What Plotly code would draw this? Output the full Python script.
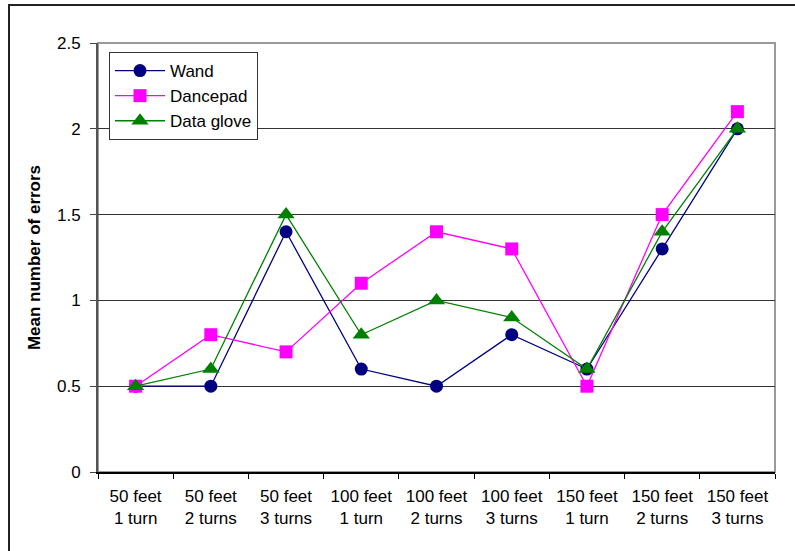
import plotly.graph_objects as go

categories = ["50 feet<br>1 turn", "50 feet<br>2 turns", "50 feet<br>3 turns",
              "100 feet<br>1 turn", "100 feet<br>2 turns", "100 feet<br>3 turns",
              "150 feet<br>1 turn", "150 feet<br>2 turns", "150 feet<br>3 turns"]
wand = [0.5, 0.5, 1.4, 0.6, 0.5, 0.8, 0.6, 1.3, 2.0]
dancepad = [0.5, 0.8, 0.7, 1.1, 1.4, 1.3, 0.5, 1.5, 2.1]
data_glove = [0.5, 0.6, 1.5, 0.8, 1.0, 0.9, 0.6, 1.4, 2.0]
y_ticks = [0, 0.5, 1, 1.5, 2, 2.5]

FONT = "Arial, 'Liberation Sans', sans-serif"

fig = go.Figure()
fig.add_trace(go.Scatter(x=categories, y=wand, name="Wand", mode="lines+markers",
                         line=dict(color="#000080", width=1.3),
                         marker=dict(symbol="circle", size=13, color="#000080")))
fig.add_trace(go.Scatter(x=categories, y=dancepad, name="Dancepad", mode="lines+markers",
                         line=dict(color="#FF00FF", width=1.3),
                         marker=dict(symbol="square", size=13, color="#FF00FF")))
fig.add_trace(go.Scatter(x=categories, y=data_glove, name="Data glove", mode="lines+markers",
                         line=dict(color="#008000", width=1.3),
                         marker=dict(symbol="triangle-up", size=15, color="#008000")))

L, R, T, B = 98, 20, 43, 79
W, H = 795, 551
pw, ph = W - L - R, H - T - B

fig.update_layout(
    width=W, height=H,
    margin=dict(l=L, r=R, t=T, b=B),
    paper_bgcolor="white", plot_bgcolor="white",
    font=dict(family=FONT, size=17, color="black"),
    showlegend=True,
    legend=dict(x=(109 - L) / pw, y=(H - B - 52) / ph, xanchor="left", yanchor="top",
                bgcolor="white", bordercolor="#333333", borderwidth=1,
                font=dict(family=FONT, size=17, color="black"),
                tracegroupgap=0, itemwidth=50),
    shapes=[
        dict(type="rect", xref="paper", yref="paper", x0=0, x1=1, y0=0, y1=1,
             line=dict(color="#9a9a9a", width=2), layer="below"),
        dict(type="line", xref="paper", yref="paper",
             x0=(9 - L) / pw, x1=(9 - L) / pw, y0=(H - B - 560) / ph, y1=(H - B - 4) / ph,
             line=dict(color="#222222", width=2)),
        dict(type="line", xref="paper", yref="paper",
             x0=(9 - L) / pw, x1=(800 - L) / pw, y0=(H - B - 5) / ph, y1=(H - B - 5) / ph,
             line=dict(color="#222222", width=2)),
    ],
)

fig.update_xaxes(
    type="category", range=[-0.5, 8.5],
    tickson="boundaries", ticks="outside", ticklen=5, tickcolor="black",
    showline=True, linecolor="black", linewidth=1.5,
    showgrid=False, zeroline=False,
    tickfont=dict(family=FONT, size=17, color="black"),
    ticklabelstandoff=8,
)
fig.update_yaxes(
    range=[0, 2.5], tickvals=y_ticks, ticktext=[f"{v:g}" for v in y_ticks],
    ticks="outside", ticklen=6, tickcolor="#444444",
    showline=True, linecolor="#555555", linewidth=2,
    showgrid=True, gridcolor="#333333", gridwidth=1, zeroline=False,
    tickfont=dict(family=FONT, size=17, color="black"),
    ticklabelstandoff=6,
    title=dict(text="<b>Mean number of errors</b>", font=dict(family=FONT, size=17, color="black"),
               standoff=12),
)

fig.write_html("out.html", config={"displayModeBar": False},
               post_script="document.body.style.margin='0';")
